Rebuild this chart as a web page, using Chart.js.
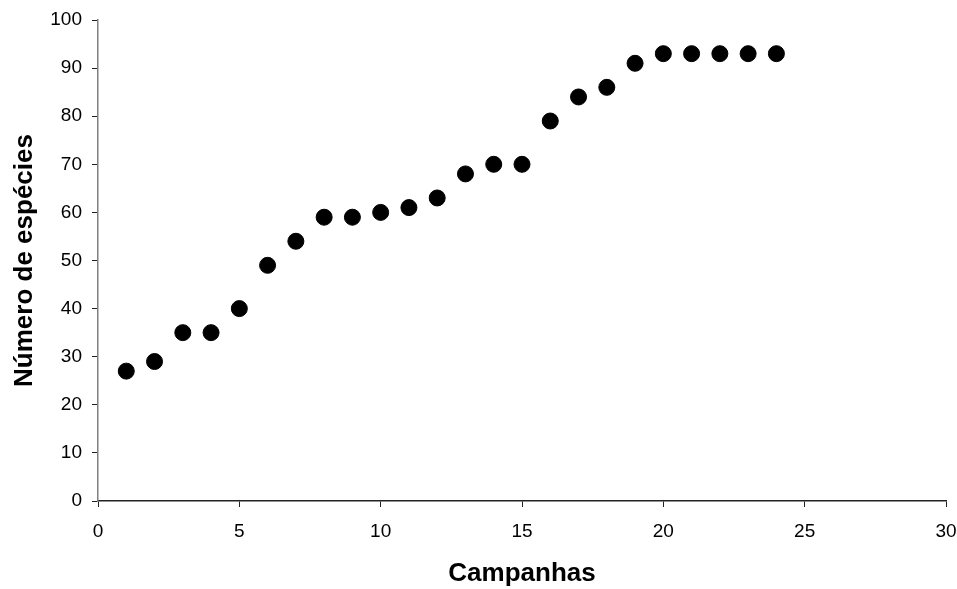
<!DOCTYPE html>
<html>
<head>
<meta charset="utf-8">
<script src="https://cdn.jsdelivr.net/npm/chart.js@4"></script>
<style>
  html, body { margin: 0; padding: 0; background: #fff; }
  #box { width: 957px; height: 589px; }
</style>
</head>
<body>
<div id="box"><canvas id="grafico"></canvas></div>
<script>
// dados
var campanhas = [1, 2, 3, 4, 5, 6, 7, 8, 9, 10, 11, 12, 13, 14, 15, 16, 17, 18, 19, 20, 21, 22, 23, 24];
var especies = [27, 29, 35, 35, 40, 49, 54, 59, 59, 60, 61, 63, 68, 70, 70, 79, 84, 86, 91, 93, 93, 93, 93, 93];

var pontos = [];
for (var i = 0; i < campanhas.length; i++) {
  pontos.push({ x: campanhas[i], y: especies[i] });
}

var fonte = "'Liberation Sans', Arial, sans-serif";

var ctx = document.getElementById("grafico");
var grafico = new Chart(ctx, {
  type: 'scatter',
  data: {
    datasets: [{
      data: pontos,
      backgroundColor: '#000',
      borderColor: '#000',
      pointRadius: 8,
      pointHoverRadius: 8
    }]
  },
  options: {
    responsive: true,
    maintainAspectRatio: false,
    animation: false,
    layout: { padding: { top: 20, right: 11, left: 0, bottom: 0 } },
    plugins: { legend: { display: false }, tooltip: { enabled: false } },
    scales: {
      x: {
        type: 'linear',
        min: 0, max: 30,
        ticks: { stepSize: 5, color: '#000', font: { family: fonte, size: 19 }, padding: 13 },
        grid: { drawOnChartArea: false, tickLength: 6, color: '#222', tickColor: '#222' },
        border: { color: '#222', width: 1.5 },
        title: { display: true, text: 'Campanhas', color: '#000', font: { family: fonte, size: 26, weight: 'bold' }, padding: { top: 0, bottom: 0 } },
        afterFit: function (s) { s.height = 88; s.paddingLeft = 0; s.paddingRight = 0; }
      },
      y: {
        min: 0, max: 100,
        ticks: { stepSize: 10, color: '#000', font: { family: fonte, size: 19 }, padding: 10 },
        grid: { drawOnChartArea: false, tickLength: 6, color: '#808080', tickColor: '#222' },
        border: { color: '#808080', width: 1.5 },
        title: { display: true, text: 'Número de espécies', color: '#000', font: { family: fonte, size: 26, weight: 'bold' }, padding: { top: 9, bottom: 0 } },
        afterFit: function (s) { s.width = 98; s.paddingTop = 0; s.paddingBottom = 0; }
      }
    }
  }
});
</script>
</body>
</html>
